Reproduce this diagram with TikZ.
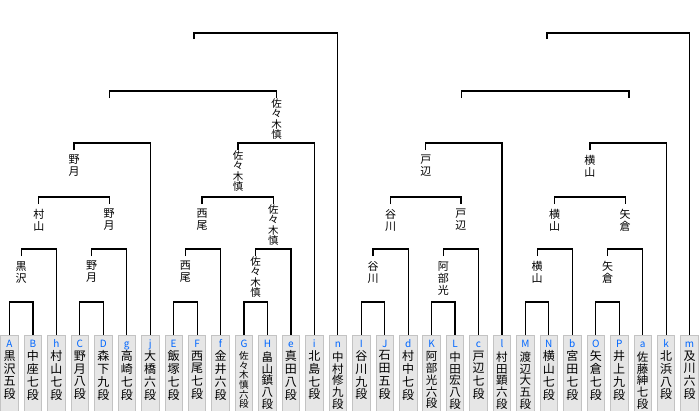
\documentclass[tikz,border=0pt]{standalone}
\usepackage{fontspec}
\setmainfont{Noto Sans CJK JP}
\definecolor{letblue}{RGB}{0,102,255}
\definecolor{boxfill}{RGB}{230,230,230}
\definecolor{boxline}{RGB}{195,195,195}
\begin{document}
\begin{tikzpicture}[x=1pt,y=-1pt,
  conn/.style={line width=1.2pt},
  entrybox/.style={draw=boxline,fill=boxfill,line width=0.8pt,minimum width=17.5pt,minimum height=80pt,anchor=north,inner sep=0pt},
  letter/.style={text=letblue,font=\fontsize{10}{10}\selectfont,anchor=base,inner sep=0pt},
  pname/.style={font=\fontsize{12}{12.8}\selectfont,align=center,anchor=north,inner sep=0pt},
  pnamefive/.style={font=\fontsize{11.5}{11.7}\selectfont,align=center,anchor=north,inner sep=0pt,yshift=-1pt},
  pnamesmall/.style={font=\fontsize{9.6}{9.6}\selectfont,align=center,anchor=north,inner sep=0pt,yshift=-1pt},
  win/.style={font=\fontsize{11}{12}\selectfont,align=center,anchor=north,inner xsep=0pt,inner ysep=5pt},
  winlong/.style={font=\fontsize{10.5}{10.5}\selectfont,align=center,anchor=north,inner xsep=0pt,inner ysep=0.5pt},
]
\useasboundingbox (0,0) rectangle (700,410);
\clip (0,0) rectangle (700,410);
\fill[white] (0,0) rectangle (700,410);

% entry boxes
\foreach \i/\l/\t/\s in {
  0/A/{黒\\沢\\五\\段}/pname,
  1/B/{中\\座\\七\\段}/pname,
  2/h/{村\\山\\七\\段}/pname,
  3/C/{野\\月\\八\\段}/pname,
  4/D/{森\\下\\九\\段}/pname,
  5/g/{高\\崎\\七\\段}/pname,
  6/j/{大\\橋\\六\\段}/pname,
  7/E/{飯\\塚\\七\\段}/pname,
  8/F/{西\\尾\\七\\段}/pname,
  9/f/{金\\井\\六\\段}/pname,
  10/G/{佐\\々\\木\\慎\\六\\段}/pnamesmall,
  11/H/{畠\\山\\鎮\\八\\段}/pnamefive,
  12/e/{真\\田\\八\\段}/pname,
  13/i/{北\\島\\七\\段}/pname,
  14/n/{中\\村\\修\\九\\段}/pnamefive,
  15/I/{谷\\川\\九\\段}/pname,
  16/J/{石\\田\\五\\段}/pname,
  17/d/{村\\中\\七\\段}/pname,
  18/K/{阿\\部\\光\\六\\段}/pnamefive,
  19/L/{中\\田\\宏\\八\\段}/pnamefive,
  20/c/{戸\\辺\\七\\段}/pname,
  21/l/{村\\田\\顕\\六\\段}/pnamefive,
  22/M/{渡\\辺\\大\\五\\段}/pnamefive,
  23/N/{横\\山\\七\\段}/pname,
  24/b/{宮\\田\\七\\段}/pname,
  25/O/{矢\\倉\\七\\段}/pname,
  26/P/{井\\上\\九\\段}/pname,
  27/a/{佐\\藤\\紳\\七\\段}/pnamefive,
  28/k/{北\\浜\\八\\段}/pname,
  29/m/{及\\川\\六\\段}/pname}{
  \node[entrybox] (b\i) at ({9.5+23.45*\i},335) {};
  \node[letter] (c\i) at ({9.5+23.45*\i},347) {\l};
  \node[\s] (t\i) at ({9.5+23.45*\i},350.5) {\t};
}

% ---------- left half ----------
\coordinate (j1) at (21.2,302);
\node[win] (L1) at (21.2,256) {黒\\沢};
\draw[conn] (b0.north) |- (j1) -| (b1.north);
\coordinate (j2) at (38.8,249);
\node[win] (L2) at (38.8,204) {村\\山};
\draw[conn] (L1.north) |- (j2) -| (b2.north);
\coordinate (j3) at (91.6,302);
\node[win] (L3) at (91.6,256) {野\\月};
\draw[conn] (b3.north) |- (j3) -| (b4.north);
\coordinate (j4) at (109.2,249);
\node[win] (L4) at (109.2,204) {野\\月};
\draw[conn] (L3.north) |- (j4) -| (b5.north);
\coordinate (j5) at (74,197);
\node[win] (L5) at (74,150) {野\\月};
\draw[conn] (L2.north) |- (j5) -| (L4.north);
\coordinate (j6) at (110,143);
\coordinate (W6) at (109.5,98);
\draw[conn] (L5.north) |- (j6) -| (b6.north);

\coordinate (j7) at (185.4,302);
\node[win] (L7) at (185.4,256) {西\\尾};
\draw[conn] (b7.north) |- (j7) -| (b8.north);
\coordinate (j8) at (202,249);
\node[win] (L8) at (202,204) {西\\尾};
\draw[conn] (L7.north) |- (j8) -| (b9.north);
\coordinate (j9) at (255.7,302);
\node[winlong] (L9) at (255.7,256) {佐\\々\\木\\慎};
\draw[conn] (b10.north) |- (j9) -| (b11.north);
\coordinate (j10) at (273.3,249);
\node[winlong] (L10) at (273.3,204) {佐\\々\\木\\慎};
\draw[conn] (L9.north) |- (j10) -| (b12.north);
\coordinate (j11) at (238,197);
\node[winlong] (L11) at (238,150) {佐\\々\\木\\慎};
\draw[conn] (L8.north) |- (j11) -| (L10.north);
\coordinate (j12) at (276.4,143);
\node[winlong] (L12) at (276.6,98) {佐\\々\\木\\慎};
\draw[conn] (L11.north) |- (j12) -| (b13.north);
\coordinate (j13) at (194,91);
\coordinate (W13) at (194,39);
\draw[conn] (W6) |- (j13) -| (L12.north);
\coordinate (j14) at (265,33);
\draw[conn] (W13) |- (j14) -| (b14.north);

% ---------- right half ----------
\coordinate (k1) at (373,302);
\node[win] (R1) at (373,256) {谷\\川};
\draw[conn] (b15.north) |- (k1) -| (b16.north);
\coordinate (k2) at (390.6,249);
\node[win] (R2) at (390.6,204) {谷\\川};
\draw[conn] (R1.north) |- (k2) -| (b17.north);
\coordinate (k3) at (443.3,302);
\node[win] (R3) at (443.3,256) {阿\\部\\光};
\draw[conn] (b18.north) |- (k3) -| (b19.north);
\coordinate (k4) at (460.9,249);
\node[win] (R4) at (460.9,204) {戸\\辺};
\draw[conn] (R3.north) |- (k4) -| (b20.north);
\coordinate (k5) at (425.8,197);
\node[win] (R5) at (425.8,150) {戸\\辺};
\draw[conn] (R2.north) |- (k5) -| (R4.north);
\coordinate (k6) at (463,143);
\coordinate (RW6) at (461.5,98);
\draw[conn] (R5.north) |- (k6) -| (b21.north);

\coordinate (k7) at (537.1,302);
\node[win] (R7) at (537.1,256) {横\\山};
\draw[conn] (b22.north) |- (k7) -| (b23.north);
\coordinate (k8) at (554.7,249);
\node[win] (R8) at (554.7,204) {横\\山};
\draw[conn] (R7.north) |- (k8) -| (b24.north);
\coordinate (k9) at (607.5,302);
\node[win] (R9) at (607.5,256) {矢\\倉};
\draw[conn] (b25.north) |- (k9) -| (b26.north);
\coordinate (k10) at (625.1,249);
\node[win] (R10) at (625.1,204) {矢\\倉};
\draw[conn] (R9.north) |- (k10) -| (b27.north);
\coordinate (k11) at (589.9,197);
\node[win] (R11) at (589.9,150) {横\\山};
\draw[conn] (R8.north) |- (k11) -| (R10.north);
\coordinate (k12) at (629,143);
\coordinate (RW12) at (629,98);
\draw[conn] (R11.north) |- (k12) -| (b28.north);
\coordinate (k13) at (547,91);
\coordinate (RW13) at (547,39);
\draw[conn] (RW6) |- (k13) -| (RW12);
\coordinate (k14) at (620,33);
\draw[conn] (RW13) |- (k14) -| (b29.north);
\end{tikzpicture}
\end{document}
